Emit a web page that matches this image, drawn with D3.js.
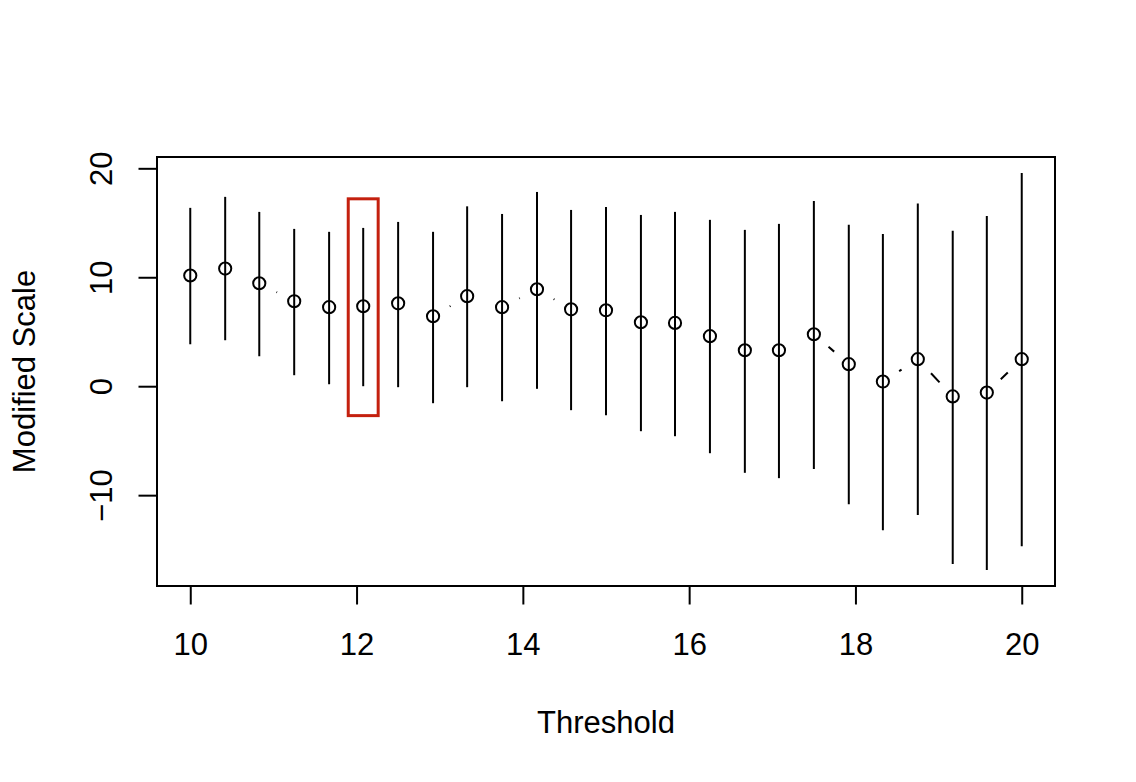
<!DOCTYPE html>
<html>
<head>
<meta charset="utf-8">
<script src="https://cdn.jsdelivr.net/npm/d3@7"></script>
<style>
  html, body { margin: 0; padding: 0; background: #ffffff; }
  svg { display: block; }
  text { font-family: "Liberation Sans", Arial, sans-serif; fill: #000; }
</style>
</head>
<body>
<svg id="chart" width="1136" height="782"></svg>
<script>
// ---- data ----
const thresholds = [10, 10.42, 10.83, 11.25, 11.67, 12.08, 12.5, 12.92, 13.33, 13.75,
  14.17, 14.58, 15, 15.42, 15.83, 16.25, 16.67, 17.08, 17.5, 17.92,
  18.33, 18.75, 19.17, 19.58, 20];
const modScale = [10.16, 10.80, 9.45, 7.80, 7.25, 7.34, 7.61, 6.42, 8.26, 7.25,
  8.90, 7.06, 6.97, 5.87, 5.81, 4.59, 3.30, 3.30, 4.77, 2.02,
  0.43, 2.48, -0.94, -0.58, 2.48];
const upperCI = [16.37, 17.38, 16.00, 14.44, 14.17, 14.53, 15.08, 14.17, 16.51, 15.81,
  17.83, 16.18, 16.46, 15.72, 16.00, 15.27, 14.35, 14.90, 17.01, 14.81,
  13.98, 16.76, 14.28, 15.63, 19.58];
const lowerCI = [3.85, 4.22, 2.75, 1.01, 0.18, 0.00, -0.09, -1.56, -0.09, -1.38,
  -0.24, -2.20, -2.66, -4.13, -4.59, -6.15, -7.95, -8.44, -7.61, -10.83,
  -13.21, -11.83, -16.33, -16.88, -14.68];
const xTicks = [10, 12, 14, 16, 18, 20];
const yTicks = [-10, 0, 10, 20];
const xLabel = "Threshold";
const yLabel = "Modified Scale";
// highlighted threshold (red box annotation)
const highlight = { x: 12.08, halfWidth: 0.18, top: 17.2, bottom: -2.7 };

// ---- layout ----
const W = 1136, H = 782;
const plot = { left: 157, right: 1055, top: 157, bottom: 586 };
const FS = 31;

const svg = d3.select("#chart");

// R-style 4% axis padding
const xMin = d3.min(thresholds), xMax = d3.max(thresholds);
const xPad = (xMax - xMin) * 0.04;
const yMin = d3.min(lowerCI), yMax = d3.max(upperCI);
const yPad = (yMax - yMin) * 0.04;

const x = d3.scaleLinear().domain([xMin - xPad, xMax + xPad]).range([plot.left, plot.right]);
const y = d3.scaleLinear().domain([yMin - yPad, yMax + yPad]).range([plot.bottom, plot.top]);

const data = thresholds.map((t, i) => ({ t, v: modScale[i], lo: lowerCI[i], hi: upperCI[i] }));

// line segments with gaps around points (R type = "b")
const gap = 19.3;
const segs = [];
for (let i = 0; i < data.length - 1; i++) {
  const x0 = x(data[i].t), y0 = y(data[i].v), x1 = x(data[i + 1].t), y1 = y(data[i + 1].v);
  const dx = x1 - x0, dy = y1 - y0, d = Math.hypot(dx, dy);
  if (d > 2 * gap) {
    const ux = dx / d, uy = dy / d;
    segs.push([x0 + ux * gap, y0 + uy * gap, x1 - ux * gap, y1 - uy * gap]);
  }
}
svg.append("g").selectAll("line").data(segs).join("line")
  .attr("x1", d => d[0]).attr("y1", d => d[1])
  .attr("x2", d => d[2]).attr("y2", d => d[3])
  .attr("stroke", "#000").attr("stroke-width", 2);

// confidence interval bars
svg.append("g").selectAll("line").data(data).join("line")
  .attr("x1", d => x(d.t)).attr("x2", d => x(d.t))
  .attr("y1", d => y(d.lo)).attr("y2", d => y(d.hi))
  .attr("stroke", "#000").attr("stroke-width", 2);

// points (open circles)
svg.append("g").selectAll("circle").data(data).join("circle")
  .attr("cx", d => x(d.t)).attr("cy", d => y(d.v))
  .attr("r", 6.1)
  .attr("fill", "none").attr("stroke", "#000").attr("stroke-width", 2);

// plot box
svg.append("rect")
  .attr("x", plot.left).attr("y", plot.top)
  .attr("width", plot.right - plot.left).attr("height", plot.bottom - plot.top)
  .attr("fill", "none").attr("stroke", "#000").attr("stroke-width", 2);

// x axis
const xAxis = d3.axisBottom(x).tickValues(xTicks).tickSize(18.5).tickPadding(0).tickFormat(d3.format("d"));
const gx = svg.append("g").attr("transform", `translate(0,${plot.bottom})`).call(xAxis);
gx.select(".domain")
  .attr("d", `M${x(xTicks[0])},0H${x(xTicks[xTicks.length - 1])}`)
  .attr("stroke", "#000").attr("stroke-width", 2);
gx.selectAll(".tick line").attr("stroke", "#000").attr("stroke-width", 2);
gx.selectAll(".tick text")
  .attr("y", 68.5).attr("dy", null)
  .attr("font-size", FS).attr("font-family", "Liberation Sans, Arial, sans-serif")
  .attr("fill", "#000");

// y axis
const yAxis = d3.axisLeft(y).tickValues(yTicks).tickSize(18.5).tickPadding(0).tickFormat(d3.format("d"));
const gy = svg.append("g").attr("transform", `translate(${plot.left},0)`).call(yAxis);
gy.select(".domain")
  .attr("d", `M0,${y(yTicks[0])}V${y(yTicks[yTicks.length - 1])}`)
  .attr("stroke", "#000").attr("stroke-width", 2);
gy.selectAll(".tick line").attr("stroke", "#000").attr("stroke-width", 2);
gy.selectAll(".tick text")
  .attr("x", null).attr("dy", null)
  .attr("transform", `translate(${112.3 - plot.left},0) rotate(-90)`)
  .attr("text-anchor", "middle")
  .attr("font-size", FS).attr("font-family", "Liberation Sans, Arial, sans-serif")
  .attr("fill", "#000");

// axis titles
svg.append("text")
  .attr("x", (plot.left + plot.right) / 2).attr("y", 732.7)
  .attr("text-anchor", "middle").attr("font-size", FS)
  .text(xLabel);
svg.append("text")
  .attr("transform", `translate(35,${(plot.top + plot.bottom) / 2}) rotate(-90)`)
  .attr("text-anchor", "middle").attr("font-size", FS)
  .text(yLabel);

// highlight box
svg.append("rect")
  .attr("x", x(highlight.x - highlight.halfWidth))
  .attr("y", y(highlight.top))
  .attr("width", x(highlight.x + highlight.halfWidth) - x(highlight.x - highlight.halfWidth))
  .attr("height", y(highlight.bottom) - y(highlight.top))
  .attr("fill", "none").attr("stroke", "#c4200e").attr("stroke-width", 3);
</script>
</body>
</html>
